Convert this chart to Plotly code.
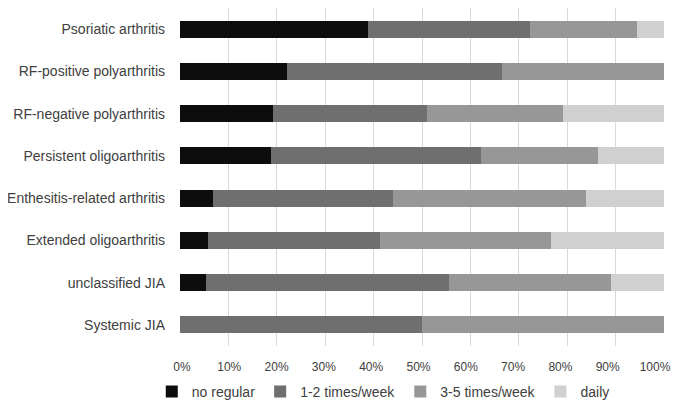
import plotly.graph_objects as go

categories = [
    "Psoriatic arthritis",
    "RF-positive polyarthritis",
    "RF-negative polyarthritis",
    "Persistent oligoarthritis",
    "Enthesitis-related arthritis",
    "Extended oligoarthritis",
    "unclassified JIA",
    "Systemic JIA",
]
no_regular = [38.8, 22.2, 19.2, 18.8, 6.8, 5.8, 5.4, 0.0]
times_1_2 = [33.5, 44.4, 31.8, 43.4, 37.3, 35.5, 50.2, 50.0]
times_3_5 = [22.1, 33.4, 28.1, 24.2, 39.8, 35.3, 33.4, 50.0]
daily = [5.6, 0.0, 20.9, 13.6, 16.1, 23.4, 11.0, 0.0]

tick_values = [0, 0.1, 0.2, 0.3, 0.4, 0.5, 0.6, 0.7, 0.8, 0.9, 1.0]
tick_labels = ["0%", "10%", "20%", "30%", "40%", "50%", "60%", "70%", "80%", "90%", "100%"]

series_names = ["no regular", "1-2 times/week", "3-5 times/week", "daily"]
series_values = [no_regular, times_1_2, times_3_5, daily]
colors = ["#0d0d0d", "#6f6f6f", "#979797", "#d0d0d0"]

fig = go.Figure()
for name, vals, c in zip(series_names, series_values, colors):
    fig.add_trace(go.Bar(
        y=categories, x=[v / 100 for v in vals], name=name, orientation="h",
        marker=dict(color=c, line=dict(width=0)),
    ))

# invisible helper trace so the label axis is drawn
fig.add_trace(go.Scatter(x=[0, 1], y=[categories[0], categories[0]], xaxis="x2",
                         mode="markers", marker=dict(opacity=0), showlegend=False,
                         hoverinfo="skip"))

fig.update_layout(
    barmode="stack",
    bargap=0.6,
    width=677, height=394,
    margin=dict(l=172, r=21, t=0, b=56, autoexpand=False),
    paper_bgcolor="white", plot_bgcolor="white",
    font=dict(family="Liberation Sans", size=14, color="#404040"),
    legend=dict(orientation="h", x=0.42, xanchor="center", y=-0.136, yanchor="middle",
                font=dict(size=14, color="#404040"), itemwidth=30, traceorder="normal"),
    xaxis=dict(range=[0, 1], tickvals=tick_values, showticklabels=False, showgrid=True,
               gridcolor="#d9d9d9", gridwidth=1, zeroline=False, showline=False,
               ticks="", fixedrange=True),
    xaxis2=dict(overlaying="x", side="bottom", anchor="y", range=[-0.0042, 1.019],
                tickvals=tick_values, ticktext=tick_labels, showgrid=False, zeroline=False,
                showline=False, ticks="", ticklabelstandoff=12, fixedrange=True,
                automargin=False, tickfont=dict(size=12, color="#404040")),
    yaxis=dict(autorange="reversed", showgrid=False, showline=False, ticks="",
               ticklabelstandoff=14, automargin=False, fixedrange=True),
)

fig.write_html("out.html")
